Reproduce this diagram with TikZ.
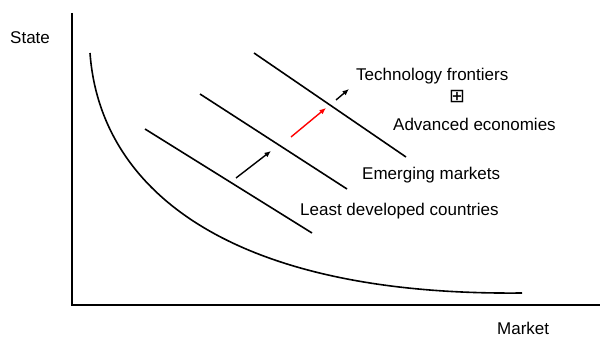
\documentclass[tikz,border=0pt]{standalone}
\usepackage{fontspec}
\setmainfont{Liberation Sans}
\newfontfamily\symfont{DejaVu Sans}
\usetikzlibrary{arrows.meta}
\begin{document}
\begin{tikzpicture}[x=1pt,y=-1pt,
  lbl/.style={inner sep=0pt,anchor=base west,font=\fontsize{17}{20}\selectfont},
  band/.style={line width=1.6pt},
  axisline/.style={line width=1.8pt},
  mover/.style={line width=1.4pt,-{Latex[length=6.5pt,width=5.5pt]}}]
\useasboundingbox (0,0) rectangle (600,337);
\fill[white] (0,0) rectangle (600,337);
% axes
\coordinate (ytop) at (72,13);
\coordinate (orig) at (72,305);
\coordinate (xend) at (600,305);
\draw[axisline] (ytop) -- (orig) -- (xend);
% curve
\coordinate (cs) at (90,53);
\coordinate (ce) at (522,293);
\draw[line width=1.6pt] (cs) .. controls (100,190) and (230,296) .. (ce);
% bands
\coordinate (l1a) at (145,129); \coordinate (l1b) at (312,233);
\coordinate (l2a) at (200,94);  \coordinate (l2b) at (347,189);
\coordinate (l3a) at (254,53);  \coordinate (l3b) at (406,157);
\draw[band] (l1a) -- (l1b);
\draw[band] (l2a) -- (l2b);
\draw[band] (l3a) -- (l3b);
% arrows
\coordinate (a1s) at (236,178); \coordinate (a1e) at (271,151);
\coordinate (a2s) at (291,137); \coordinate (a2e) at (326,108);
\coordinate (a3s) at (336,100); \coordinate (a3e) at (349,89);
\draw[mover] (a1s) -- (a1e);
\draw[mover,red] (a2s) -- (a2e);
\draw[mover] (a3s) -- (a3e);
% labels
\node[lbl] (state) at (10,43.5) {State};
\node[lbl] (market) at (497,334.5) {Market};
\node[lbl] (tf) at (356,80.5) {Technology frontiers};
\node[inner sep=0pt,font=\symfont\fontsize{19}{22}\selectfont] (plus) at (457,97) {⊞};
\node[lbl] (ae) at (393,130) {Advanced economies};
\node[lbl] (em) at (362,179) {Emerging markets};
\node[lbl] (ldc) at (300,215.5) {Least developed countries};
\end{tikzpicture}
\end{document}
